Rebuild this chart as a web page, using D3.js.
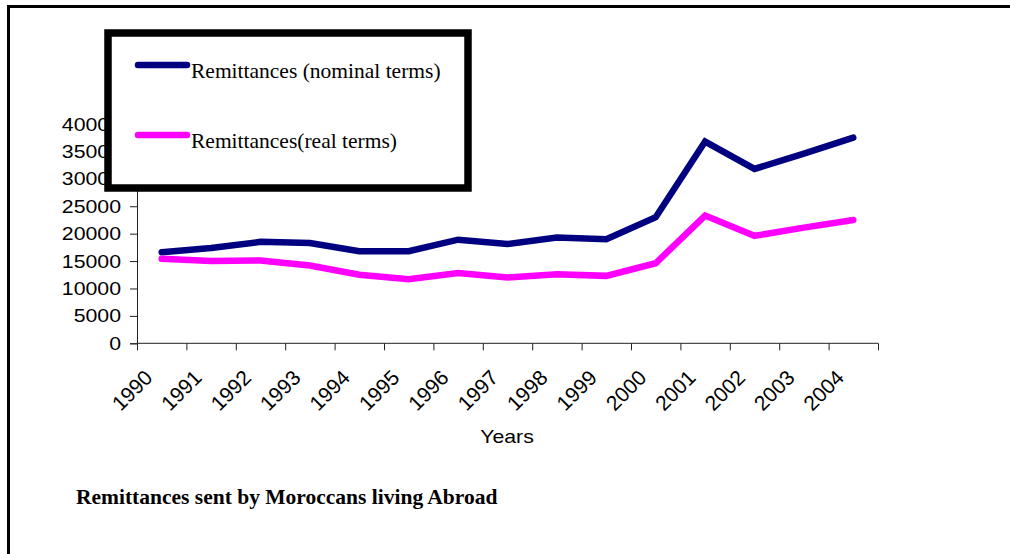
<!DOCTYPE html>
<html>
  <head>
    <meta charset="utf-8">
    <script src="https://d3js.org/d3.v7.min.js"></script>
    <style>
      body { margin: 0; background: #fff; }
      svg text.sans { font-family: "Liberation Sans", Arial, sans-serif; }
      svg text.serif { font-family: "Liberation Serif", "Times New Roman", serif; }
    </style>
  </head>
<body>
  <script type="text/javascript">
    // data
    var years = ["1990", "1991", "1992", "1993", "1994", "1995", "1996", "1997",
                 "1998", "1999", "2000", "2001", "2002", "2003", "2004"];
    var nominal = [16600, 17400, 18500, 18300, 16800, 16800, 18900, 18100,
                   19300, 19000, 23000, 36800, 31800, 34600, 37500];
    var real = [15400, 15000, 15100, 14200, 12500, 11700, 12800, 12000,
                12600, 12300, 14600, 23300, 19600, 21100, 22500];
    var yTicks = [0, 5000, 10000, 15000, 20000, 25000, 30000, 35000, 40000];
    var seriesNames = ["Remittances (nominal terms)", "Remittances(real terms)"];
    var seriesColors = ["#000080", "#ff00ff"];

    var width = 1010, height = 554;

    // the sans labels in the picture are a bit wider than tall
    function stretch(sel, k) {
      sel.each(function() {
        var w = this.getComputedTextLength();
        d3.select(this)
          .attr("textLength", w * k)
          .attr("lengthAdjust", "spacingAndGlyphs");
      });
    }

    var svg = d3.select("body")
      .append("svg")
        .attr("width", width)
        .attr("height", height);

    // page frame (top and left edges only)
    svg.append("line")
      .attr("x1", 7).attr("y1", 6.5).attr("x2", width).attr("y2", 6.5)
      .attr("stroke", "#000").attr("stroke-width", 3);
    svg.append("line")
      .attr("x1", 8.5).attr("y1", 5).attr("x2", 8.5).attr("y2", height)
      .attr("stroke", "#000").attr("stroke-width", 3);

    var x = d3.scaleBand()
      .domain(years)
      .range([137, 878])
      .padding(0);

    var y = d3.scaleLinear()
      .domain([0, 40000])
      .range([343.3, 124]);

    var chart = svg.append("g").attr("class", "chart");

    // y axis
    var yAxis = chart.append("g")
      .attr("transform", "translate(137,0)")
      .call(d3.axisLeft(y).tickValues(yTicks).tickSize(7).tickPadding(9).tickFormat(d3.format("d")));
    yAxis.selectAll("text")
      .attr("class", "sans")
      .style("font-size", "19px")
      .style("font-family", "'Liberation Sans', Arial, sans-serif")
      .attr("fill", "#000")
      .call(stretch, 1.12);
    yAxis.select(".domain").attr("stroke", "#222");
    yAxis.selectAll(".tick line").attr("stroke", "#222");

    // x axis: ticks at the band edges
    var edges = years.map(function(d) { return x(d); }).concat([x.range()[1]]);
    var xAxis = chart.append("g")
      .attr("transform", "translate(0,343.3)")
      .call(d3.axisBottom(d3.scaleIdentity()).tickValues(edges).tickSize(7).tickFormat(""));
    xAxis.select(".domain")
      .attr("d", "M137,0H878")
      .attr("stroke", "#222");
    xAxis.selectAll(".tick line").attr("stroke", "#222");

    chart.selectAll("text.year")
      .data(years)
      .enter()
      .append("text")
        .attr("class", "year sans")
        .attr("text-anchor", "end")
        .attr("transform", function(d) {
          return "translate(" + (x(d) + x.bandwidth() / 2 - 8) + ",379) rotate(-45)";
        })
        .style("font-size", "21px")
        .text(function(d) { return d; });

    chart.append("text")
      .attr("class", "sans")
      .attr("x", 507)
      .attr("y", 443)
      .attr("text-anchor", "middle")
      .style("font-size", "19px")
      .text("Years")
      .call(stretch, 1.12);

    // lines
    var line = d3.line()
      .x(function(d, i) { return x(years[i]) + x.bandwidth() / 2; })
      .y(function(d) { return y(d); });

    [nominal, real].forEach(function(s, i) {
      chart.append("path")
        .datum(s)
        .attr("d", line)
        .attr("fill", "none")
        .attr("stroke", seriesColors[i])
        .attr("stroke-width", 6.5)
        .attr("stroke-linecap", "round")
        .attr("stroke-linejoin", "miter");
    });

    // legend box drawn over the top of the y axis
    var legend = svg.append("g").attr("class", "legend");
    legend.append("rect")
      .attr("x", 108).attr("y", 33)
      .attr("width", 360).attr("height", 155)
      .attr("fill", "#fff")
      .attr("stroke", "#000")
      .attr("stroke-width", 7.5);

    seriesNames.forEach(function(name, i) {
      var ly = 65 + i * 70;
      legend.append("line")
        .attr("x1", 138).attr("x2", 187)
        .attr("y1", ly).attr("y2", ly)
        .attr("stroke", seriesColors[i])
        .attr("stroke-width", 6.5)
        .attr("stroke-linecap", "round");
      legend.append("text")
        .attr("class", "serif")
        .attr("x", 191)
        .attr("y", ly + 12.5)
        .style("font-size", "21.5px")
        .text(name);
    });

    // caption
    svg.append("text")
      .attr("class", "serif")
      .attr("x", 76)
      .attr("y", 504)
      .style("font-size", "21.5px")
      .style("font-weight", "bold")
      .text("Remittances sent by Moroccans living Abroad");
  </script>
</body>
</html>
